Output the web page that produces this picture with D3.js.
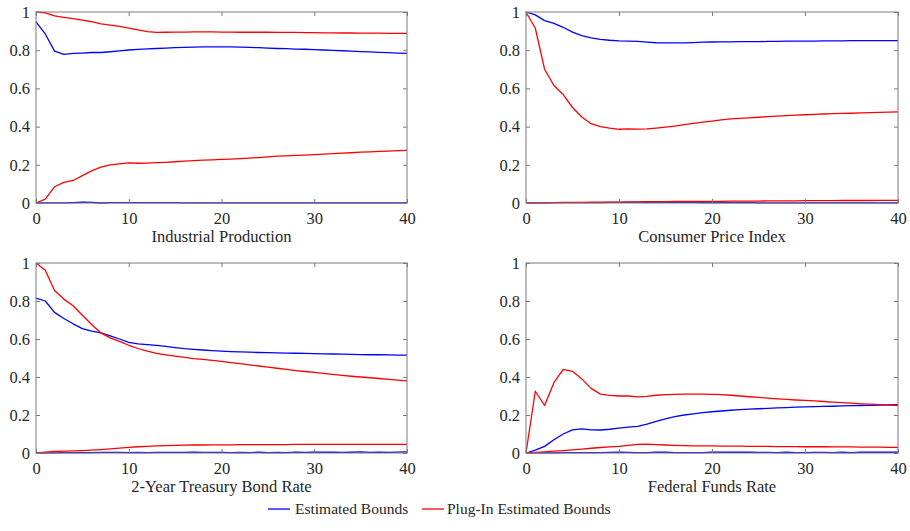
<!DOCTYPE html>
<html>
<head>
<meta charset="utf-8">
<script src="https://cdn.jsdelivr.net/npm/d3@7"></script>
<style>
  body { margin: 0; background: #fff; }
  svg { display: block; }
  svg text { font-family: 'Liberation Serif', 'Times New Roman', serif; fill: #262626; }
</style>
</head>
<body>
<svg id="chart" width="910" height="531"></svg>
<script>
// ---- data ----
const horizons = d3.range(0, 41);
const yTicks = [0, 0.2, 0.4, 0.6, 0.8, 1];
const yTickLabels = ["0", "0.2", "0.4", "0.6", "0.8", "1"];
const xTicks = [0, 10, 20, 30, 40];
const panelTitles = ["Industrial Production", "Consumer Price Index", "2-Year Treasury Bond Rate", "Federal Funds Rate"];
const legendLabels = ["Estimated Bounds", "Plug-In Estimated Bounds"];

// Industrial Production
const ipEstUpper = [0.948,0.885,0.795,0.778,0.783,0.785,0.788,0.788,0.792,0.797,0.801,0.804,0.807,0.809,0.811,0.813,0.815,0.816,0.817,0.817,0.817,0.817,0.816,0.815,0.813,0.811,0.809,0.808,0.806,0.805,0.803,0.801,0.799,0.797,0.795,0.793,0.791,0.789,0.787,0.785,0.783];
const ipEstLower = [0,0.001,0.001,0.001,0.002,0.004,0.003,0,0.002,0.002,0.002,0.002,0.002,0.002,0.002,0.002,0.001,0.001,0.001,0.001,0.001,0.001,0.001,0.001,0.001,0.001,0.001,0.001,0.001,0.001,0.001,0.001,0.001,0.001,0.001,0.001,0.001,0.001,0.001,0.001,0.001];
const ipPlugUpper = [1.0,0.995,0.98,0.972,0.965,0.957,0.949,0.938,0.931,0.925,0.916,0.906,0.897,0.893,0.894,0.895,0.895,0.896,0.896,0.896,0.895,0.895,0.894,0.894,0.894,0.894,0.893,0.893,0.893,0.892,0.892,0.891,0.891,0.890,0.890,0.889,0.889,0.889,0.888,0.888,0.888];
const ipPlugLower = [0,0.02,0.085,0.108,0.118,0.143,0.168,0.188,0.2,0.205,0.21,0.208,0.209,0.211,0.213,0.216,0.219,0.222,0.224,0.226,0.228,0.23,0.232,0.235,0.238,0.242,0.245,0.247,0.249,0.251,0.253,0.256,0.258,0.261,0.263,0.266,0.268,0.27,0.272,0.274,0.276];

// Consumer Price Index
const cpiEstUpper = [1.0,0.985,0.955,0.94,0.92,0.895,0.876,0.864,0.857,0.852,0.849,0.848,0.846,0.842,0.839,0.838,0.838,0.838,0.84,0.842,0.843,0.844,0.844,0.845,0.845,0.845,0.846,0.846,0.847,0.847,0.848,0.848,0.849,0.849,0.849,0.85,0.85,0.85,0.85,0.85,0.85];
const cpiEstLower = [0,0.001,0.001,0.002,0.002,0.002,0.002,0.002,0.002,0.003,0.003,0.003,0.003,0.004,0.004,0.003,0.003,0.003,0.003,0.002,0.002,0.002,0.002,0.002,0.002,0.001,0.001,0.001,0.001,0.001,0.001,0.001,0.001,0.001,0.001,0.001,0.001,0.001,0.001,0.001,0.001];
const cpiPlugUpper = [1.0,0.915,0.7,0.615,0.568,0.5,0.45,0.415,0.4,0.392,0.386,0.388,0.387,0.388,0.392,0.397,0.403,0.41,0.417,0.423,0.429,0.435,0.44,0.443,0.446,0.449,0.452,0.455,0.457,0.46,0.462,0.464,0.466,0.468,0.469,0.47,0.472,0.473,0.474,0.476,0.477];
const cpiPlugLower = [0,0.001,0.002,0.002,0.003,0.003,0.003,0.004,0.004,0.005,0.005,0.006,0.006,0.007,0.007,0.007,0.008,0.008,0.008,0.009,0.009,0.009,0.01,0.01,0.01,0.01,0.011,0.011,0.011,0.011,0.012,0.012,0.012,0.012,0.013,0.013,0.013,0.013,0.014,0.014,0.014];

// 2-Year Treasury Bond Rate
const tbEstUpper = [0.815,0.8,0.74,0.708,0.68,0.655,0.642,0.632,0.617,0.6,0.582,0.574,0.57,0.566,0.561,0.555,0.549,0.545,0.542,0.539,0.536,0.534,0.532,0.531,0.529,0.528,0.527,0.526,0.525,0.524,0.523,0.522,0.521,0.52,0.519,0.518,0.517,0.517,0.516,0.515,0.515];
const tbEstLower = [0,0.001,0.001,0.002,0.002,0.002,0.002,0.003,0.003,0.003,0.002,0.003,0.002,0.003,0.003,0.003,0.003,0.004,0.003,0.003,0.003,0.002,0.003,0.002,0.004,0.002,0.003,0.002,0.005,0.003,0.005,0.004,0.005,0.003,0.004,0.006,0.003,0.004,0.003,0.005,0.006];
const tbPlugUpper = [1.0,0.962,0.855,0.81,0.775,0.725,0.676,0.632,0.606,0.588,0.567,0.55,0.536,0.524,0.517,0.51,0.503,0.497,0.493,0.488,0.482,0.476,0.47,0.464,0.458,0.452,0.446,0.44,0.434,0.429,0.424,0.419,0.414,0.409,0.404,0.4,0.396,0.392,0.388,0.384,0.38];
const tbPlugLower = [0,0.004,0.008,0.01,0.011,0.013,0.015,0.018,0.022,0.026,0.03,0.033,0.035,0.037,0.039,0.04,0.041,0.042,0.042,0.043,0.043,0.043,0.044,0.044,0.044,0.044,0.044,0.044,0.045,0.045,0.045,0.045,0.045,0.045,0.045,0.045,0.045,0.045,0.045,0.045,0.045];

// Federal Funds Rate
const ffEstUpper = [0,0.015,0.035,0.07,0.1,0.122,0.127,0.122,0.121,0.125,0.131,0.136,0.14,0.152,0.166,0.18,0.192,0.2,0.206,0.212,0.217,0.221,0.225,0.228,0.231,0.233,0.235,0.237,0.239,0.241,0.243,0.244,0.245,0.246,0.248,0.249,0.25,0.251,0.252,0.253,0.255];
const ffEstLower = [0,0.001,0.001,0.001,0.002,0.002,0.002,0.002,0.002,0.003,0.005,0.003,0.002,0.002,0.005,0.004,0.002,0.002,0.002,0.002,0.004,0.004,0.004,0.004,0.004,0.003,0.003,0.002,0.004,0.002,0.002,0.003,0.003,0.002,0.004,0.002,0.004,0.004,0.004,0.004,0.004];
const ffPlugUpper = [0,0.325,0.25,0.37,0.44,0.43,0.39,0.34,0.31,0.303,0.3,0.3,0.295,0.298,0.304,0.307,0.309,0.31,0.31,0.31,0.309,0.307,0.304,0.3,0.296,0.293,0.289,0.285,0.282,0.279,0.277,0.274,0.271,0.268,0.265,0.262,0.259,0.257,0.255,0.252,0.25];
const ffPlugLower = [0,0.003,0.006,0.01,0.013,0.016,0.02,0.025,0.029,0.032,0.035,0.04,0.045,0.046,0.044,0.042,0.04,0.039,0.038,0.037,0.037,0.036,0.036,0.036,0.035,0.035,0.035,0.034,0.034,0.034,0.033,0.033,0.033,0.032,0.032,0.032,0.031,0.031,0.031,0.030,0.030];

const panelSeries = [
  [ipEstUpper, ipEstLower, ipPlugUpper, ipPlugLower],
  [cpiEstUpper, cpiEstLower, cpiPlugUpper, cpiPlugLower],
  [tbEstUpper, tbEstLower, tbPlugUpper, tbPlugLower],
  [ffEstUpper, ffEstLower, ffPlugUpper, ffPlugLower]
];
const seriesColors = ["#0000ff", "#0000ff", "#ff0000", "#ff0000"];
const legendColors = ["#0000ff", "#ff0000"];

// ---- layout ----
const svg = d3.select("#chart");
const panelBoxes = [
  {x0: 36, x1: 407, y0: 12, y1: 203},
  {x0: 526, x1: 898, y0: 12, y1: 203},
  {x0: 36, x1: 407, y0: 263, y1: 453},
  {x0: 526, x1: 898, y0: 263, y1: 453}
];
const axisColor = "#262626";
const frameColor = "#7a7a7a";

panelBoxes.forEach((b, i) => {
  const x = d3.scaleLinear().domain([0, 40]).range([b.x0, b.x1]);
  const y = d3.scaleLinear().domain([0, 1]).range([b.y1, b.y0]);
  const g = svg.append("g");

  const line = d3.line().x((d, j) => x(horizons[j])).y(d => y(d));
  panelSeries[i].forEach((s, k) => {
    g.append("path").datum(s)
      .attr("fill", "none")
      .attr("stroke", seriesColors[k])
      .attr("stroke-width", 1.3)
      .attr("stroke-linejoin", "round")
      .attr("d", line);
  });

  g.append("rect")
    .attr("x", b.x0).attr("y", b.y0)
    .attr("width", b.x1 - b.x0).attr("height", b.y1 - b.y0)
    .attr("fill", "none").attr("stroke", frameColor).attr("stroke-width", 1);

  const xa = g.append("g").attr("transform", `translate(0,${b.y1})`)
    .call(d3.axisBottom(x).tickValues(xTicks).tickSize(-4).tickPadding(9).tickFormat(d3.format("d")));
  const xt = g.append("g").attr("transform", `translate(0,${b.y0})`)
    .call(d3.axisTop(x).tickValues(xTicks).tickSize(-4).tickFormat(""));
  const ya = g.append("g").attr("transform", `translate(${b.x0},0)`)
    .call(d3.axisLeft(y).tickValues(yTicks).tickSize(-4).tickPadding(6).tickFormat((d, j) => yTickLabels[j]));
  const yr = g.append("g").attr("transform", `translate(${b.x1},0)`)
    .call(d3.axisRight(y).tickValues(yTicks).tickSize(-4).tickFormat(""));

  [xa, xt, ya, yr].forEach(a => {
    a.attr("font-family", null);
    a.select(".domain").remove();
    a.selectAll(".tick line").attr("stroke", frameColor);
    a.selectAll("text").attr("font-size", 16.5).attr("fill", axisColor);
  });

  g.append("text")
    .attr("x", (b.x0 + b.x1) / 2)
    .attr("y", b.y1 + 39)
    .attr("text-anchor", "middle")
    .attr("font-size", 16.5)
    .text(panelTitles[i]);
});

const legend = svg.append("g");
const legendItems = [{x: 268, tx: 295}, {x: 422, tx: 447}];
legendLabels.forEach((lab, i) => {
  legend.append("line")
    .attr("x1", legendItems[i].x).attr("x2", legendItems[i].x + 22)
    .attr("y1", 509).attr("y2", 509)
    .attr("stroke", legendColors[i]).attr("stroke-width", 1.3);
  legend.append("text")
    .attr("x", legendItems[i].tx).attr("y", 514)
    .attr("font-size", 15.5)
    .text(lab);
});
</script>
</body>
</html>
